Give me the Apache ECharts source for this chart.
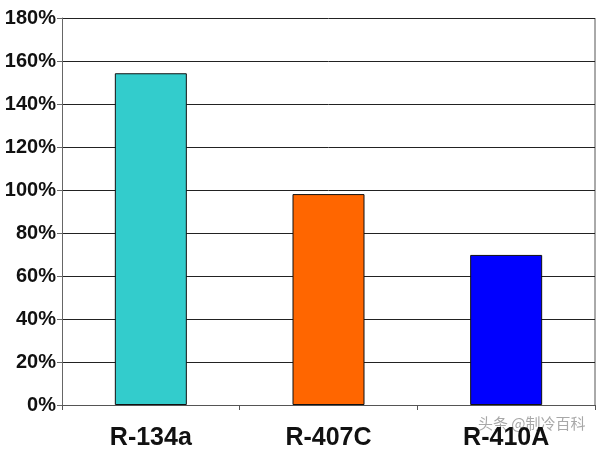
<!DOCTYPE html>
<html><head><meta charset="utf-8">
<script src="https://cdn.jsdelivr.net/npm/echarts@6/dist/echarts.min.js"></script>
<style>html,body{margin:0;padding:0;background:#fff}#c{width:601px;height:452px}</style>
</head><body><div id="c"></div>
<script>
const categories = ['R-134a', 'R-407C', 'R-410A'];
const values = [154.3, 98.1, 69.8];
const barColors = ['#33CCCC', '#FF6600', '#0000FF'];
const yTicks = [0, 20, 40, 60, 80, 100, 120, 140, 160, 180];
const watermark = '头条 @制冷百科';

const chart = echarts.init(document.getElementById('c'));
chart.setOption({
  animation: false,
  backgroundColor: '#fff',
  grid: { left: 62, right: 6, top: 18, bottom: 47, containLabel: false },
  xAxis: {
    type: 'category',
    data: categories,
    axisLine: { lineStyle: { color: '#555', width: 1 } },
    axisTick: { show: true, alignWithLabel: false, length: 5, lineStyle: { color: '#555' } },
    axisLabel: { color: '#111', fontFamily: 'Liberation Sans, Arial, sans-serif', fontWeight: 'bold', fontSize: 25, margin: 21 },
    splitLine: { show: false }
  },
  yAxis: {
    type: 'value',
    min: yTicks[0], max: yTicks[yTicks.length - 1], interval: 20,
    axisLine: { show: true, lineStyle: { color: '#666', width: 1 } },
    axisTick: { show: true, length: 5, lineStyle: { color: '#666' } },
    axisLabel: { color: '#111', fontFamily: 'Liberation Sans, Arial, sans-serif', fontWeight: 'bold', fontSize: 20, margin: 6, formatter: v => v + '%' },
    splitLine: { show: true, lineStyle: { color: '#222', width: 1 } }
  },
  series: [{
    type: 'bar',
    barWidth: 72,
    data: values.map((v, i) => ({ value: v, itemStyle: { color: barColors[i] } })),
    itemStyle: { borderColor: '#111', borderWidth: 1 }
  }],
  graphic: [
    { type: 'line', shape: { x1: 595, y1: 18, x2: 595, y2: 405 }, style: { stroke: '#555', lineWidth: 1 } },
    { type: 'text', left: 478, top: 416, style: { text: watermark, fill: 'rgba(110,110,110,0.6)', font: '15px "Noto Sans CJK SC", sans-serif' } }
  ]
});
</script></body></html>
